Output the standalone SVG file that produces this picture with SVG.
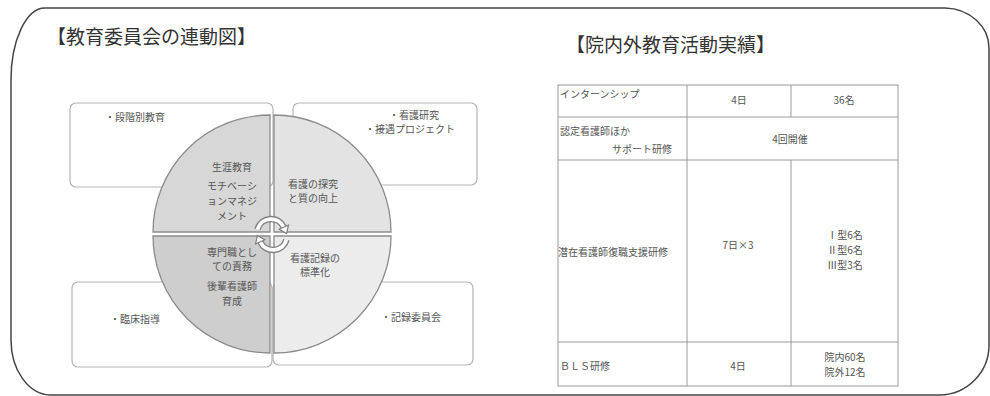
<svg xmlns="http://www.w3.org/2000/svg" width="990" height="396" viewBox="0 0 990 396">
<style>
text{font-family:"Noto Sans CJK JP","Noto Sans",sans-serif;fill:#555}
.title{font-size:19px;fill:#333}
.box{fill:#fff;stroke:#b5b5b5;stroke-width:1.2}
.bt{font-size:10px}
.qt{font-size:10px;text-anchor:middle;fill:#555}
.q{stroke:#8c8c8c;stroke-width:1.3}
.tl{stroke:#9a9a9a;stroke-width:1;fill:none}
.tt{font-size:10px}
.c{text-anchor:middle}
.arc1{fill:none;stroke:#808080;stroke-width:6.5}
.arc2{fill:none;stroke:#fff;stroke-width:3.8}
.ah{fill:#fff;stroke:#808080;stroke-width:1.2}
</style>
<rect width="990" height="396" fill="#fff"/>
<path d="M 45 8 L 945 8 A 45 40 0 0 1 989 48 L 989 345 A 50 50 0 0 1 940 395 L 50 395 A 40 55 0 0 1 11 340 L 11 80 A 34 72 0 0 1 45 8 Z" fill="none" stroke="#444" stroke-width="1.5"/>
<text class="title" x="47" y="44">【教育委員会の連動図】</text>
<text class="title" x="566" y="52">【院内外教育活動実績】</text>

<g id="box-tl"><rect class="box" x="70" y="103" width="203" height="84" rx="6"/><text class="bt" x="105" y="121">・段階別教育</text></g>
<g id="box-tr"><rect class="box" x="293" y="103" width="184" height="82" rx="6"/><text class="bt c" x="414" y="119">・看護研究</text><text class="bt c" x="410" y="133">・接遇プロジェクト</text></g>
<g id="box-bl"><rect class="box" x="72" y="282" width="200" height="85" rx="6"/><text class="bt" x="110" y="323">・臨床指導</text></g>
<g id="box-br"><rect class="box" x="273" y="282" width="200" height="83" rx="6" stroke="#cfcfcf"/><text class="bt" x="381" y="321">・記録委員会</text></g>

<g id="cycle">
<g id="q-tl"><path class="q" d="M 270 232 L 153 232 A 117 117 0 0 1 270 115 Z" fill="#d7d7d7"/>
<text class="qt" x="232" y="171">生涯教育</text><text class="qt" x="232" y="190">モチベーシ</text><text class="qt" x="232" y="205">ョンマネジ</text><text class="qt" x="232" y="220">メント</text></g>
<g id="q-tr"><path class="q" d="M 274 232 L 274 115 A 117 117 0 0 1 391 232 Z" fill="#e3e3e3"/>
<text class="qt" x="313" y="188">看護の探究</text><text class="qt" x="313" y="202">と質の向上</text></g>
<g id="q-bl"><path class="q" d="M 270 236 L 270 353 A 117 117 0 0 1 153 236 Z" fill="#cecece"/>
<text class="qt" x="232" y="256">専門職とし</text><text class="qt" x="232" y="270">ての責務</text><text class="qt" x="232" y="290">後輩看護師</text><text class="qt" x="232" y="305">育成</text></g>
<g id="q-br"><path class="q" d="M 274 236 L 391 236 A 117 117 0 0 1 274 353 Z" fill="#ececec"/>
<text class="qt" x="315" y="262">看護記録の</text><text class="qt" x="315" y="276">標準化</text></g>
</g>

<g id="connectors">
<path class="arc1" d="M 257.5 229.4 A 14 14 0 0 1 283.7 227.1"/>
<path class="arc2" d="M 257.5 229.4 A 14 14 0 0 1 283.7 227.1"/>
<polygon class="ah" points="288.5,225 279.2,229.3 286.6,233.5"/>
<path class="arc1" d="M 286.5 239.6 A 14 14 0 0 1 260.3 241.9"/>
<path class="arc2" d="M 286.5 239.6 A 14 14 0 0 1 260.3 241.9"/>
<polygon class="ah" points="255.5,244 264.8,239.7 257.4,235.5"/>
</g>

<g id="table">
<rect class="tl" x="558" y="85" width="340" height="301"/>
<line class="tl" x1="558" y1="117" x2="898" y2="117"/>
<line class="tl" x1="558" y1="160" x2="898" y2="160"/>
<line class="tl" x1="558" y1="342" x2="898" y2="342"/>
<line class="tl" x1="687" y1="85" x2="687" y2="386"/>
<line class="tl" x1="791" y1="85" x2="791" y2="117"/>
<line class="tl" x1="791" y1="160" x2="791" y2="386"/>
<text class="tt" x="560" y="98">インターンシップ</text>
<text class="tt c" x="739" y="104">4日</text>
<text class="tt c" x="844" y="104">36名</text>
<text class="tt" x="560" y="135">認定看護師ほか</text>
<text class="tt" x="612" y="153">サポート研修</text>
<text class="tt c" x="790" y="143">4回開催</text>
<text class="tt" x="558" y="256">潜在看護師復職支援研修</text>
<text class="tt c" x="738" y="249">7日×3</text>
<text class="tt c" x="845" y="239">Ⅰ型6名</text>
<text class="tt c" x="845" y="254">Ⅱ型6名</text>
<text class="tt c" x="845" y="269">Ⅲ型3名</text>
<text class="tt" x="560" y="370">ＢＬＳ研修</text>
<text class="tt c" x="738" y="370">4日</text>
<text class="tt c" x="845" y="361">院内60名</text>
<text class="tt c" x="845" y="376">院外12名</text>
</g>
</svg>
